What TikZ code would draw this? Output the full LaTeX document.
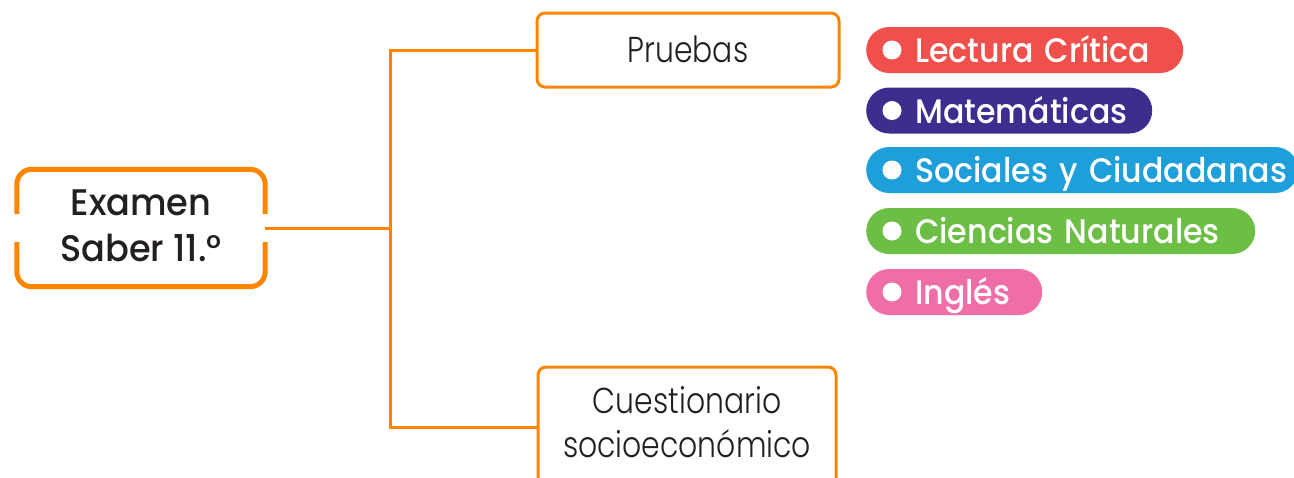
\documentclass[tikz,border=0pt]{standalone}
\usepackage{fontspec}
\setmainfont{Poppins}
\newfontfamily\mainfont{Poppins Medium}[FakeStretch=0.95]
\newfontfamily\lightfont{Poppins Light}[FakeStretch=0.83]
\newfontfamily\pillfont{Poppins Medium}[FakeStretch=0.93]
\usetikzlibrary{backgrounds}
\definecolor{orng}{RGB}{255,133,0}
\definecolor{ink}{RGB}{35,31,32}
\definecolor{lnk}{RGB}{167,169,172}
\definecolor{cred}{RGB}{240,80,76}
\definecolor{cpur}{RGB}{59,46,142}
\definecolor{cblu}{RGB}{30,159,217}
\definecolor{cgrn}{RGB}{108,190,69}
\definecolor{cpnk}{RGB}{240,110,168}
\tikzset{
  mainbox/.style={minimum width=248pt, minimum height=117pt, align=center, text=ink,
    font=\mainfont\fontsize{37}{46}\selectfont, inner sep=0pt},
  subbox/.style={draw=orng, line width=3pt, rounded corners=8pt, fill=white, text=ink,
    align=center, inner sep=0pt, font=\lightfont\fontsize{36}{44}\selectfont},
  tree/.style={draw=orng, line width=3pt},
  glink/.style={draw=lnk, line width=4pt},
  pill/.style={rounded corners=23pt, minimum height=46pt, inner xsep=0pt, inner ysep=0pt,
    text=white, anchor=west, align=left, text height=25.4pt, text depth=0pt,
    font=\pillfont\fontsize{34}{40}\selectfont},
  dot/.style={fill=white}
}
\begin{document}
\begin{tikzpicture}[x=1pt,y=-1pt]
\useasboundingbox[fill=white] (0,0) rectangle (1294,477);

% main node
\node[mainbox] (main) at (141,228) {Examen\\Saber 11.°\rule[-4pt]{0pt}{4pt}};
\draw[orng, line width=5pt, rounded corners=15pt]
  ([yshift=14pt]main.west) -- (main.north west) -- (main.north east) -- ([yshift=14pt]main.east);
\draw[orng, line width=5pt, rounded corners=15pt]
  ([yshift=-14pt]main.west) -- (main.south west) -- (main.south east) -- ([yshift=-14pt]main.east);

% second level
\node[subbox, minimum width=302pt, minimum height=74pt, text height=25pt, text depth=0pt]
  (pru) at (688,50) {Pruebas};
\node[subbox, minimum width=298pt, minimum height=120pt]
  (cue) at (687,427) {Cuestionario\\socioeconómico\rule[-10pt]{0pt}{10pt}};

\coordinate (j) at (390,228);
\draw[tree] (main.east) -- (j);
\draw[tree] (pru.west) -| (j) |- (cue.west);

% pills
\node[pill, fill=cred, text width=317pt] (lc) at (866,50) {\hspace*{49pt}\mbox{Lectura Crítica}};
\node[pill, fill=cpur, text width=286pt] (ma) at (866,110.5) {\hspace*{49pt}\mbox{Matemáticas}};
\node[pill, fill=cblu, text width=432pt] (so) at (866,170) {\hspace*{49pt}\mbox{Sociales y Ciudadanas}};
\node[pill, fill=cgrn, text width=389pt] (ci) at (866,231) {\hspace*{49pt}\mbox{Ciencias Naturales}};
\node[pill, fill=cpnk, text width=176pt] (in) at (866,292) {\hspace*{49pt}\mbox{Inglés}};

\foreach \p in {lc,ma,so,ci,in}
  \fill[dot] ([xshift=26pt]\p.west) circle (9.5pt);

\begin{scope}[on background layer]
  \draw[glink] (pru.east) -- (lc.west);
  \draw[glink] ([xshift=26pt]lc.west) -- ([xshift=26pt]in.west);
\end{scope}
\end{tikzpicture}
\end{document}
